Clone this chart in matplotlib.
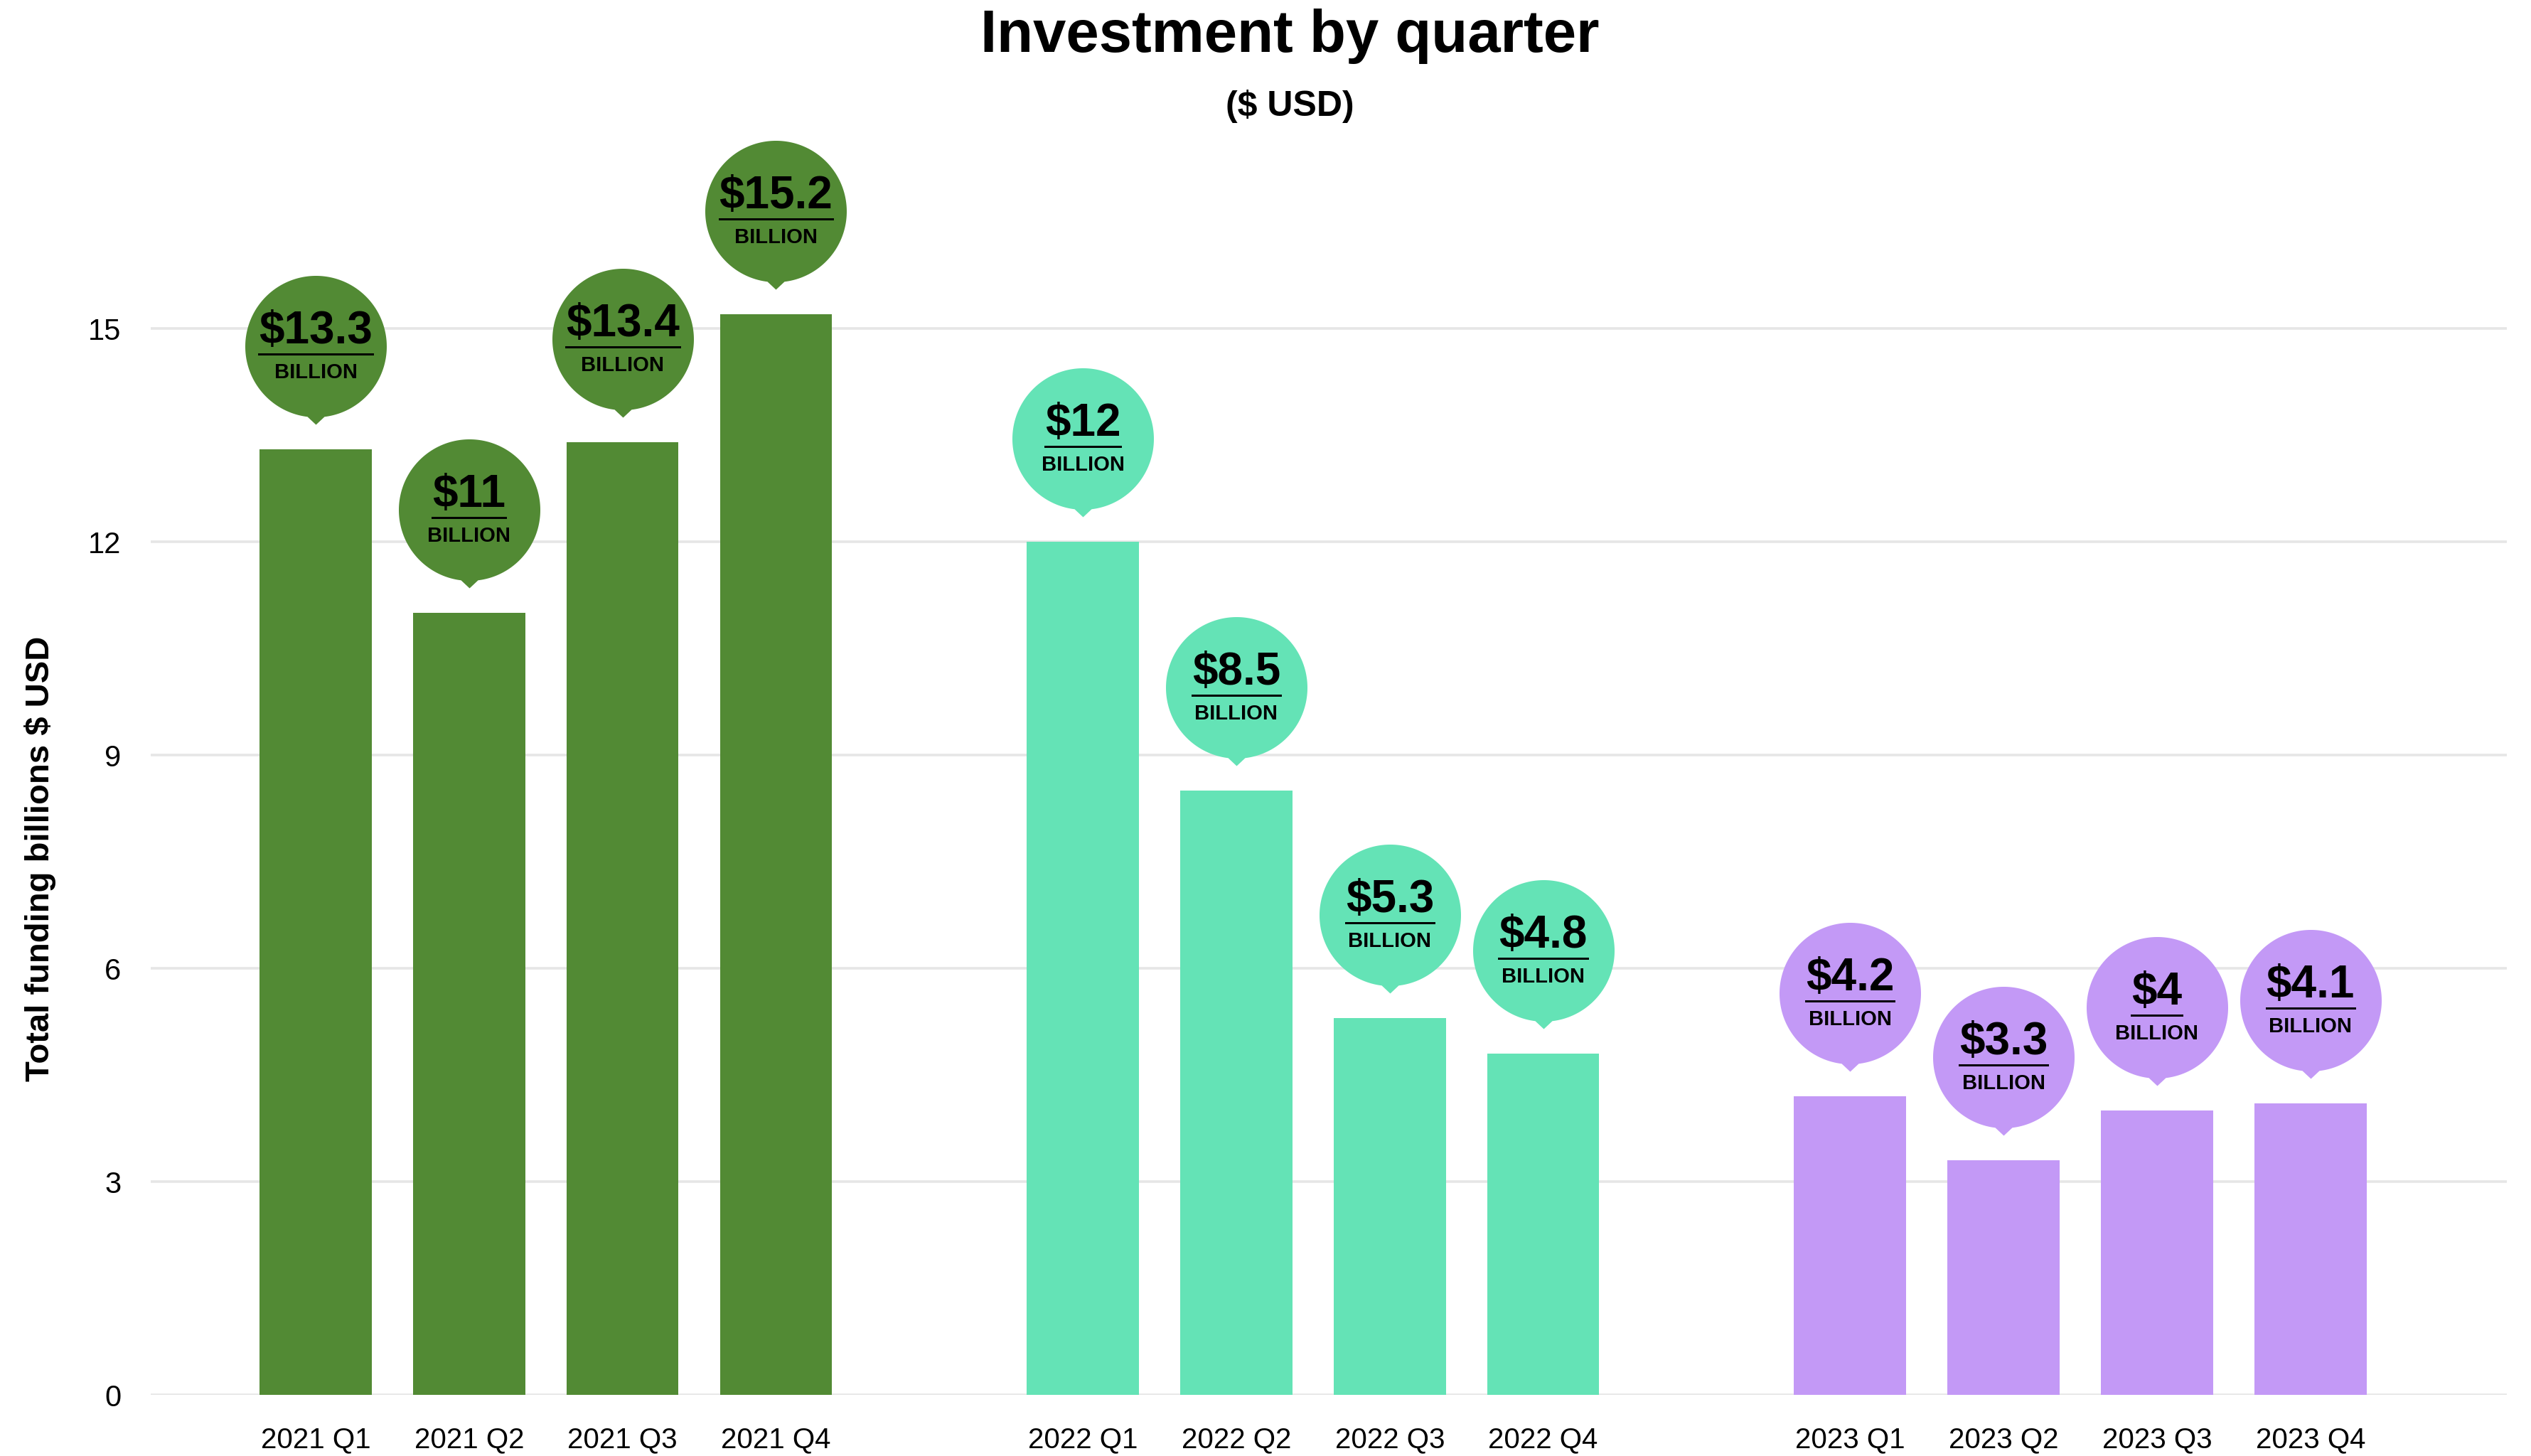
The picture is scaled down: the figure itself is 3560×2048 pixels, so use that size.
import matplotlib
matplotlib.use("Agg")
import matplotlib.pyplot as plt
import numpy as np
from matplotlib.path import Path
from matplotlib.lines import Line2D

plt.rcParams['font.family'] = ['Liberation Sans', 'DejaVu Sans']

# ---------------- data ----------------
years = ["2021", "2022", "2023"]
quarters = ["Q1", "Q2", "Q3", "Q4"]
values_2021 = [13.3, 11, 13.4, 15.2]
values_2022 = [12, 8.5, 5.3, 4.8]
values_2023 = [4.2, 3.3, 4, 4.1]
year_colors = ["#528A34", "#64E3B6", "#C399F6"]
yticks = [0, 3, 6, 9, 12, 15]

title = "Investment by quarter"
subtitle = "($ USD)"
ylabel = "Total funding billions $ USD"
unit_word = "BILLION"

series = [values_2021, values_2022, values_2023]

# ---------------- layout ----------------
W, H, DPI = 3560, 2048, 200
PX = 72 / DPI  # points per pixel
fig = plt.figure(figsize=(W / DPI, H / DPI), dpi=DPI)
ax = fig.add_axes([212 / W, 86 / H, (3526 - 212) / W, 1700 / H])

group_step = 5
bar_w = 0.73

# bubble marker (pixel units, origin at bar top)
R, CY, TIP, HALF = 99.5, 145.0, 35.0, 12.0
th0 = np.arcsin(HALF / R)
ang = np.linspace(-np.pi / 2 + th0, 3 * np.pi / 2 - th0, 240)
verts = [(R * np.cos(a), CY + R * np.sin(a)) for a in ang]
verts.append((0.0, TIP))
verts.append(verts[0])
codes = [Path.MOVETO] + [Path.LINETO] * (len(verts) - 2) + [Path.CLOSEPOLY]
bubble = Path(verts, codes)
msize = 2 * (CY + R) * PX

xpos, xlabels, value_texts = [], [], []
for g, (yr, vals, col) in enumerate(zip(years, series, year_colors)):
    xs = [g * group_step + i for i in range(len(vals))]
    ax.bar(xs, vals, width=bar_w, color=col, zorder=2, linewidth=0)
    for x, v, q in zip(xs, vals, quarters):
        xpos.append(x)
        xlabels.append(f"{yr} {q}")
        ax.plot([x], [v], marker=bubble, markersize=msize, color=col,
                markeredgewidth=0, linestyle='none', clip_on=False, zorder=3)
        t = ax.annotate(f"${v:g}", xy=(x, v), xytext=(0, (CY + 3.5) * PX),
                        textcoords='offset points', ha='center', va='baseline',
                        fontsize=23, fontweight='bold', color='black',
                        zorder=4, annotation_clip=False)
        ax.annotate(unit_word, xy=(x, v), xytext=(0, (CY - 45) * PX),
                    textcoords='offset points', ha='center', va='baseline',
                    fontsize=10.5, fontweight='bold', color='black',
                    zorder=4, annotation_clip=False)
        value_texts.append((t, x, v))

ax.set_xlim(-1.075, 14.28)
ax.set_ylim(0, 17)
ax.set_xticks(xpos)
ax.set_xticklabels(xlabels)
ax.set_yticks(yticks)
ax.tick_params(axis='y', length=0, pad=15, labelsize=15, labelcolor='black')
ax.tick_params(axis='x', length=0, pad=16, labelsize=14.5, labelcolor='black')
for s in ax.spines.values():
    s.set_visible(False)
ax.yaxis.grid(True, color='#E6E6E6', linewidth=1.3)
ax.xaxis.grid(False)
ax.set_axisbelow(True)

fig.text(1814 / W, 1 - 73 / H, title, ha='center', va='baseline',
         fontsize=30, fontweight='bold', color='black')
fig.text(1814 / W, 1 - 163 / H, subtitle, ha='center', va='baseline',
         fontsize=18, fontweight='bold', color='black')
fig.text(57 / W, 1 - 1208 / H, ylabel, rotation=90, ha='center', va='center',
         fontsize=17, fontweight='bold', color='black')

# underlines under the value texts
fig.canvas.draw()
renderer = fig.canvas.get_renderer()
for t, x, v in value_texts:
    bb = t.get_window_extent(renderer)
    yd = ax.transData.transform((x, v))[1] + (CY - 11)
    fig.add_artist(Line2D([bb.x0 / W, bb.x1 / W], [yd / H, yd / H],
                          transform=fig.transFigure, color='black',
                          linewidth=3 * PX, zorder=5))

fig.savefig("out.png", dpi=DPI)
